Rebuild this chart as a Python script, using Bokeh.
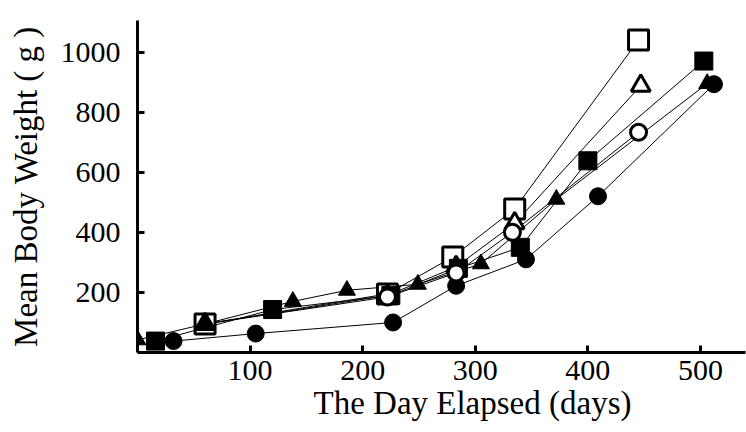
from bokeh.plotting import figure
from bokeh.models import Range1d, FixedTicker, Title
from bokeh.embed import file_html
from bokeh.resources import INLINE

# Data
open_sq_day = [60, 222, 280, 335, 445]
open_sq_wt = [95, 195, 318, 478, 1040]

open_tri_day = [60, 222, 283, 335, 447]
open_tri_wt = [95, 190, 285, 430, 888]

open_circ_day = [60, 222, 283, 333, 445]
open_circ_wt = [95, 185, 265, 400, 733]

fill_sq_day = [16, 120, 225, 285, 340, 400, 503]
fill_sq_wt = [38, 143, 190, 280, 350, 638, 970]

fill_tri_day = [0, 60, 138, 186, 249, 305, 372, 506]
fill_tri_wt = [42, 95, 170, 207, 227, 295, 510, 895]

fill_circ_day = [32, 105, 227, 283, 345, 409, 512]
fill_circ_wt = [38, 63, 100, 222, 310, 520, 893]

x_ticks = [100, 200, 300, 400, 500]
y_ticks = [200, 400, 600, 800, 1000]

FONT = "Liberation Serif"

p = figure(width=746, height=432, output_backend="svg", toolbar_location=None,
           x_range=Range1d(0, 540), y_range=Range1d(0, 1105),
           min_border_left=137, min_border_right=1, min_border_top=20, min_border_bottom=80)
p.outline_line_color = None
p.xgrid.visible = False
p.ygrid.visible = False

# lines
for xs, ys in [(open_sq_day, open_sq_wt), (open_tri_day, open_tri_wt), (open_circ_day, open_circ_wt),
               (fill_sq_day, fill_sq_wt), (fill_tri_day, fill_tri_wt), (fill_circ_day, fill_circ_wt)]:
    p.line(xs, ys, line_color="black", line_width=1)

# markers (drawing order chosen to mimic the overlaps of the reference)
p.scatter(open_sq_day, open_sq_wt, marker="square", size=20, fill_color="white", line_color="black", line_width=3)
p.scatter(open_tri_day, open_tri_wt, marker="triangle", size=19, fill_color="white", line_color="black", line_width=3)
p.scatter(fill_sq_day, fill_sq_wt, marker="square", size=18, fill_color="black", line_color="black")
p.scatter(fill_circ_day, fill_circ_wt, marker="circle", size=17, fill_color="black", line_color="black")
p.scatter(fill_tri_day, fill_tri_wt, marker="triangle", size=17, fill_color="black", line_color="black")
p.scatter(open_circ_day[1:], open_circ_wt[1:], marker="circle", size=16, fill_color="white", line_color="black", line_width=3)

for ax in (p.xaxis[0], p.yaxis[0]):
    ax.axis_line_width = 3
    ax.axis_line_color = "black"
    ax.major_tick_line_width = 3
    ax.major_tick_line_color = "black"
    ax.major_tick_in = 7
    ax.major_tick_out = 0
    ax.minor_tick_line_color = None
    ax.major_label_text_font = FONT
    ax.major_label_text_font_size = "30px"
    ax.major_label_text_color = "black"
    ax.axis_label_text_font = FONT
    ax.axis_label_text_font_size = "33px"
    ax.axis_label_text_font_style = "normal"
    ax.axis_label_text_color = "black"

p.xaxis[0].ticker = FixedTicker(ticks=x_ticks)
p.yaxis[0].ticker = FixedTicker(ticks=y_ticks)
p.yaxis[0].axis_label = "Mean Body Weight ( g )"
p.yaxis[0].major_label_standoff = 17
p.xaxis[0].major_label_standoff = 8
p.yaxis[0].axis_label_standoff = 14

# x-axis title, placed slightly right of centre as in the reference
p.add_layout(Title(text="The Day Elapsed (days)", align="left", offset=176, standoff=0,
                   text_font=FONT, text_font_size="33px", text_font_style="normal",
                   text_color="black"), "below")

open("out.html", "w").write(file_html(p, INLINE))
